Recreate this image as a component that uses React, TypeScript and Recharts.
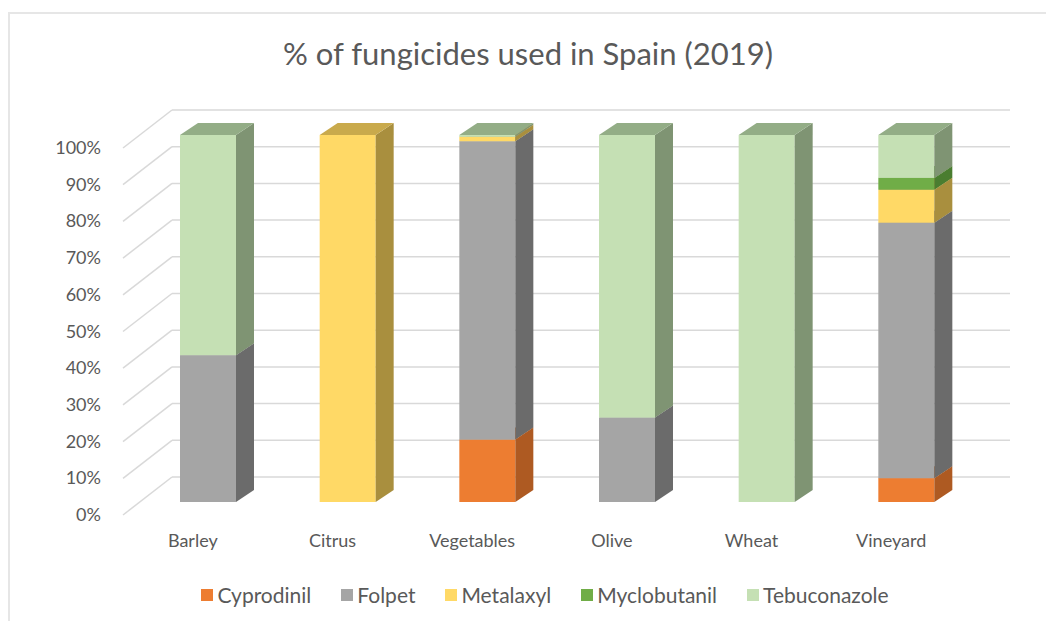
import { Bar, BarChart, CartesianGrid, XAxis, YAxis } from "recharts";

// crops and the share (%) of each fungicide
const categories = ["Barley", "Citrus", "Vegetables", "Olive", "Wheat", "Vineyard"];
const cyprodinil = [0, 0, 17, 0, 0, 6.5];
const folpet = [40, 0, 81.3, 23, 0, 69.6];
const metalaxyl = [0, 100, 1.2, 0, 0, 9];
const myclobutanil = [0, 0, 0, 0, 0, 3.2];
const tebuconazole = [60, 0, 0.5, 77, 100, 11.7];
const yTicks = [0, 10, 20, 30, 40, 50, 60, 70, 80, 90, 100];

const series = [
  { key: "Cyprodinil", values: cyprodinil, front: "#ED7D31", side: "#AE5A22", top: "#C96A2A" },
  { key: "Folpet", values: folpet, front: "#A5A5A5", side: "#6B6B6B", top: "#8C8C8C" },
  { key: "Metalaxyl", values: metalaxyl, front: "#FFD966", side: "#A98F3E", top: "#C9AA4C" },
  { key: "Myclobutanil", values: myclobutanil, front: "#70AD47", side: "#4A7D30", top: "#5E9538" },
  { key: "Tebuconazole", values: tebuconazole, front: "#C5E0B4", side: "#7F9473", top: "#93AD86" },
];

const data = categories.map((name, i) => {
  const row: Record<string, string | number> = { name };
  series.forEach((s) => { row[s.key] = s.values[i]; });
  return row;
});

const TXT = "#595959";
const GRID = "#d9d9d9";
const FONT = "Lato, 'Open Sans', sans-serif";
const DX = 18;
const DY = 12;

function box(front: string, side: string, top: string) {
  return (p: any) => {
    const { x, y, width: w, height: h } = p;
    if (!h || h <= 0.01) return <g />;
    return (
      <g>
        <rect x={x} y={y} width={w} height={h} fill={front} />
        <polygon points={`${x + w},${y} ${x + w + DX},${y - DY} ${x + w + DX},${y + h - DY} ${x + w},${y + h}`} fill={side} />
        <polygon points={`${x},${y} ${x + DX},${y - DY} ${x + w + DX},${y - DY} ${x + w},${y}`} fill={top} />
      </g>
    );
  };
}

// back-wall gridline plus the diagonal running forward to the label
function gridLine(p: any) {
  const { x1, x2, y1 } = p;
  return (
    <g key={p.key}>
      <line x1={x1 - 15} y1={y1 + 13} x2={x1 + 34} y2={y1 - 25} stroke={GRID} strokeWidth={1.5} />
      <line x1={x1 + 34} y1={y1 - 25} x2={x2 + 34} y2={y1 - 25} stroke={GRID} strokeWidth={1.5} />
    </g>
  );
}

function YTick({ y, payload }: any) {
  return (
    <text x={91} y={y + 13} dy={6} textAnchor="end" fill={TXT} fontSize={18} fontFamily={FONT}>
      {payload.value}%
    </text>
  );
}

function XTick({ x, y, payload }: any) {
  return (
    <text x={x - 15} y={y + 37} textAnchor="middle" fill={TXT} fontSize={18} fontFamily={FONT}>
      {payload.value}
    </text>
  );
}

export default function App() {
  return (
    <div style={{ position: "relative", marginTop: 4, width: 1044, height: 607, borderTop: "2px solid #e6e6e6", borderLeft: "2px solid #e6e6e6" }}>
      <div style={{ position: "absolute", left: 0, width: 1036, top: 20, textAlign: "center", fontFamily: FONT, fontSize: 31, color: TXT }}>
        % of fungicides used in Spain (2019)
      </div>
      <BarChart width={1044} height={607} data={data} margin={{ top: 121, right: 78, bottom: 89, left: 28 }}>
        <CartesianGrid horizontal={gridLine} vertical={false} />
        <XAxis dataKey="name" axisLine={false} tickLine={false} height={30} tick={<XTick />} interval={0} />
        <YAxis domain={[0, 100]} ticks={yTicks} axisLine={false} tickLine={false} width={100} tick={<YTick />} interval={0} />
        {series.map((s) => (
          <Bar key={s.key} dataKey={s.key} stackId="a" barSize={56} isAnimationActive={false}
            shape={box(s.front, s.side, s.top)} />
        ))}
      </BarChart>
      <div style={{ position: "absolute", left: 8, width: 1054, top: 568, display: "flex", justifyContent: "center", gap: 30, fontFamily: FONT, fontSize: 21, color: TXT }}>
        {series.map((s) => (
          <div key={s.key} style={{ display: "flex", alignItems: "center" }}>
            <span style={{ width: 12, height: 12, background: s.front, marginRight: 4, display: "inline-block" }} />
            {s.key}
          </div>
        ))}
      </div>
    </div>
  );
}
